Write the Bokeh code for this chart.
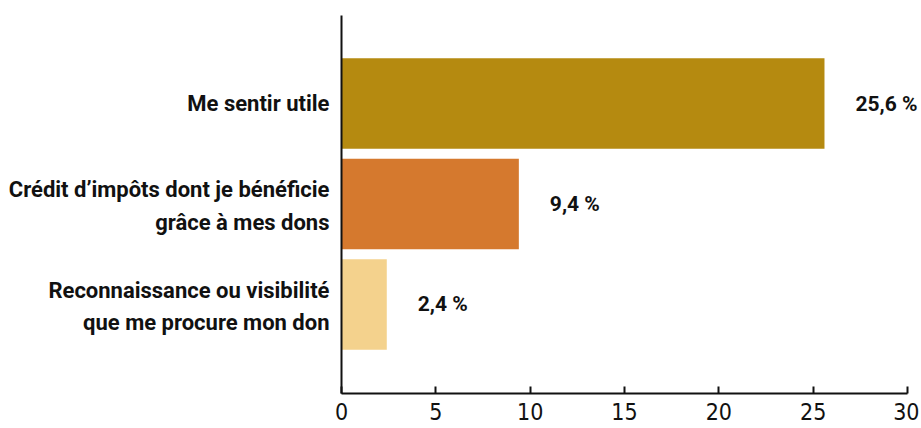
from bokeh.plotting import figure
from bokeh.models import Range1d, FixedTicker, ColumnDataSource
from bokeh.core.properties import value
from bokeh.embed import file_html
from bokeh.resources import INLINE

categories = ["Me sentir utile",
              "Crédit d’impôts dont je bénéficie\ngrâce à mes dons",
              "Reconnaissance ou visibilité\nque me procure mon don"]
values = [25.6, 9.4, 2.4]
colors = ["#B58A10", "#D5792E", "#F4D28D"]
value_labels = ["25,6 %", "9,4 %", "2,4 %"]
x_ticks = [0, 5, 10, 15, 20, 25, 30]

idx = list(range(len(categories)))
src = ColumnDataSource(dict(y=idx, v=values, c=colors, t=value_labels))

W, H = 919, 426
px_per_unit = (907 - 341) / 30.0
x_end = 30 + (W - 907) / px_per_unit
p = figure(width=W, height=H, output_backend="svg", toolbar_location=None,
           x_range=Range1d(0, x_end), y_range=Range1d(2.886, -0.876),
           min_border_left=341, min_border_right=0, min_border_top=15,
           min_border_bottom=H - 393)
p.outline_line_color = None
p.grid.grid_line_color = None
p.background_fill_color = "white"

p.hbar(y="y", left=0, right="v", height=0.9, fill_color="c", line_color=None, source=src)
p.text(x="v", y="y", text="t", source=src, x_offset=31, text_baseline="middle",
       text_align="left", text_font=value("Roboto"), text_font_style="bold",
       text_font_size="21px", text_color="#111111")

narrow = "'Liberation Sans Narrow', 'DejaVu Sans Condensed', 'Roboto', sans-serif"

# x axis
xa = p.xaxis[0]
xa.ticker = FixedTicker(ticks=x_ticks)
xa.bounds = (0, 30)
xa.axis_line_width = 2
xa.axis_line_color = "#111111"
xa.major_tick_line_width = 2
xa.major_tick_line_color = "#111111"
xa.major_tick_in = 7
xa.major_tick_out = 0
xa.minor_tick_line_color = None
xa.major_label_text_font = narrow
xa.major_label_text_font_size = "23px"
xa.major_label_text_color = "#111111"
xa.major_label_standoff = 9

# y axis: one tick label per text line
ticks = []
overrides = {}
for i, cat in enumerate(categories):
    lines = cat.split("\n")
    n = len(lines)
    for j, line in enumerate(lines):
        off = (j - (n - 1) / 2) * 0.32 + (0.02 if n > 1 else 0.0)
        pos = round(i + off, 3)
        ticks.append(pos)
        overrides[pos] = line

ya = p.yaxis[0]
ya.ticker = FixedTicker(ticks=ticks)
ya.major_label_overrides = overrides
ya.axis_line_width = 2
ya.axis_line_color = "#111111"
ya.major_tick_line_color = None
ya.major_tick_in = 0
ya.major_tick_out = 0
ya.minor_tick_line_color = None
ya.major_label_standoff = 12
ya.major_label_text_font = "Roboto"
ya.major_label_text_font_style = "bold"
ya.major_label_text_font_size = "22px"
ya.major_label_text_color = "#111111"

open("out.html", "w").write(file_html(p, INLINE))
